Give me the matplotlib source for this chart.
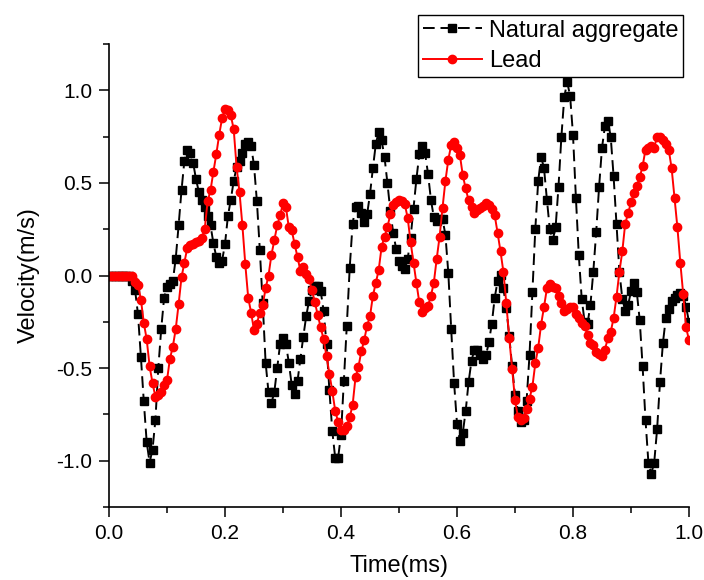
import numpy as np
import matplotlib
matplotlib.use('Agg')
import matplotlib.pyplot as plt
from matplotlib.ticker import MultipleLocator

plt.rcParams['font.family'] = ['Liberation Sans', 'DejaVu Sans']

# sample times (ms), 0.005 ms step
time_ms = np.round(np.arange(201) * 0.005, 3)

natural_aggregate = [
    0, 0, 0, 0, 0, 0, 0, 0, -0.03, -0.08,
    -0.21, -0.44, -0.68, -0.90, -1.01, -0.94, -0.78, -0.50, -0.29, -0.12,
    -0.06, -0.045, -0.03, 0.09, 0.27, 0.46, 0.62, 0.68, 0.66, 0.61,
    0.52, 0.45, 0.41, 0.37, 0.32, 0.27, 0.175, 0.10, 0.065, 0.08,
    0.17, 0.32, 0.41, 0.51, 0.585, 0.62, 0.66, 0.71, 0.72, 0.70,
    0.595, 0.40, 0.14, -0.15, -0.47, -0.63, -0.69, -0.63, -0.50, -0.37,
    -0.335, -0.37, -0.47, -0.59, -0.64, -0.57, -0.45, -0.33, -0.22, -0.135,
    -0.08, -0.055, -0.055, -0.085, -0.19, -0.37, -0.62, -0.84, -0.985, -0.985,
    -0.86, -0.57, -0.27, 0.04, 0.28, 0.37, 0.375, 0.335, 0.29, 0.33,
    0.44, 0.58, 0.71, 0.775, 0.73, 0.64, 0.50, 0.35, 0.23, 0.145,
    0.08, 0.05, 0.035, 0.09, 0.205, 0.36, 0.52, 0.655, 0.70, 0.66,
    0.55, 0.41, 0.315, 0.295, 0.305, 0.305, 0.22, 0.015, -0.29, -0.58,
    -0.80, -0.895, -0.85, -0.73, -0.575, -0.46, -0.40, -0.40, -0.43, -0.45,
    -0.43, -0.36, -0.26, -0.12, -0.03, 0.005, -0.07, -0.175, -0.325, -0.49,
    -0.645, -0.73, -0.79, -0.78, -0.675, -0.43, -0.09, 0.25, 0.51, 0.64,
    0.58, 0.41, 0.25, 0.19, 0.26, 0.48, 0.75, 0.965, 1.045, 0.97,
    0.76, 0.42, 0.11, -0.125, -0.25, -0.26, -0.16, 0.02, 0.235, 0.48,
    0.69, 0.805, 0.835, 0.75, 0.535, 0.28, 0.02, -0.125, -0.19, -0.16,
    -0.085, -0.04, -0.09, -0.24, -0.49, -0.78, -1.01, -1.07, -1.01, -0.83,
    -0.575, -0.365, -0.23, -0.18, -0.14, -0.12, -0.105, -0.095, -0.11, -0.17,
    -0.25,
]

lead = [
    0, 0, 0, 0, 0, 0, 0, 0, -0.005, -0.035,
    -0.05, -0.13, -0.255, -0.345, -0.49, -0.58, -0.655, -0.645, -0.63, -0.59,
    -0.565, -0.45, -0.385, -0.29, -0.155, -0.01, 0.07, 0.15, 0.165, 0.17,
    0.18, 0.185, 0.205, 0.25, 0.40, 0.46, 0.56, 0.655, 0.76, 0.85,
    0.90, 0.893, 0.865, 0.79, 0.585, 0.45, 0.27, 0.06, -0.12, -0.20,
    -0.295, -0.26, -0.20, -0.16, -0.07, 0.0, 0.11, 0.19, 0.27, 0.325,
    0.39, 0.37, 0.26, 0.245, 0.17, 0.10, 0.025, 0.045, 0.01, -0.02,
    -0.08, -0.145, -0.215, -0.28, -0.345, -0.435, -0.53, -0.625, -0.73, -0.79,
    -0.835, -0.835, -0.815, -0.765, -0.70, -0.55, -0.495, -0.41, -0.35, -0.27,
    -0.22, -0.11, -0.04, 0.03, 0.155, 0.21, 0.26, 0.33, 0.38, 0.395,
    0.41, 0.40, 0.385, 0.31, 0.18, 0.07, -0.04, -0.145, -0.195, -0.175,
    -0.165, -0.11, -0.04, 0.09, 0.21, 0.365, 0.51, 0.625, 0.705, 0.72,
    0.69, 0.65, 0.54, 0.47, 0.405, 0.37, 0.34, 0.355, 0.365, 0.375,
    0.39, 0.38, 0.36, 0.325, 0.23, 0.13, 0.02, -0.15, -0.335, -0.505,
    -0.67, -0.765, -0.78, -0.77, -0.72, -0.665, -0.60, -0.475, -0.39, -0.265,
    -0.17, -0.07, -0.045, -0.06, -0.07, -0.11, -0.15, -0.19, -0.18, -0.17,
    -0.17, -0.21, -0.23, -0.255, -0.275, -0.32, -0.365, -0.375, -0.415, -0.425,
    -0.435, -0.40, -0.34, -0.305, -0.23, -0.115, 0.02, 0.13, 0.28, 0.335,
    0.395, 0.445, 0.485, 0.53, 0.59, 0.68, 0.69, 0.70, 0.69, 0.75,
    0.75, 0.73, 0.71, 0.68, 0.58, 0.42, 0.26, 0.07, -0.10, -0.28,
    -0.35,
]

fig = plt.figure(figsize=(7.04, 5.8), dpi=100)
ax = fig.add_axes([109 / 704, 1 - 507 / 580, 580 / 704, 463 / 580])

ax.plot(time_ms, natural_aggregate, color='black', linestyle='--', dashes=(6, 3),
        linewidth=1.4, marker='s', markersize=5.5, label='Natural aggregate')
ax.plot(time_ms, lead, color='red', linestyle='-', linewidth=1.4,
        marker='o', markersize=6, label='Lead')

ax.set_xlim(0, 1.0)
ax.set_ylim(-1.25, 1.25)
ax.xaxis.set_major_locator(MultipleLocator(0.2))
ax.xaxis.set_minor_locator(MultipleLocator(0.1))
ax.yaxis.set_major_locator(MultipleLocator(0.5))
ax.yaxis.set_minor_locator(MultipleLocator(0.25))
ax.xaxis.set_major_formatter(plt.FormatStrFormatter('%.1f'))
ax.yaxis.set_major_formatter(plt.FormatStrFormatter('%.1f'))

for side in ['top', 'right']:
    ax.spines[side].set_visible(False)
for side in ['left', 'bottom']:
    ax.spines[side].set_linewidth(1.2)

ax.tick_params(which='major', direction='out', length=7, width=1.1, labelsize=15, pad=5)
ax.tick_params(which='minor', direction='out', length=4, width=1.1)

ax.set_xlabel('Time(ms)', fontsize=17, labelpad=9)
ax.set_ylabel('Velocity(m/s)', fontsize=17, labelpad=12)

fig.legend(loc='upper left', bbox_to_anchor=(418 / 704, 1 - 15 / 580),
           fontsize=17, frameon=True, fancybox=False, edgecolor='black',
           framealpha=1, handlelength=2.5, handletextpad=0.3, borderpad=0.2,
           labelspacing=0.35, borderaxespad=0)

fig.savefig('out.png', dpi=100)
plt.close('all')
